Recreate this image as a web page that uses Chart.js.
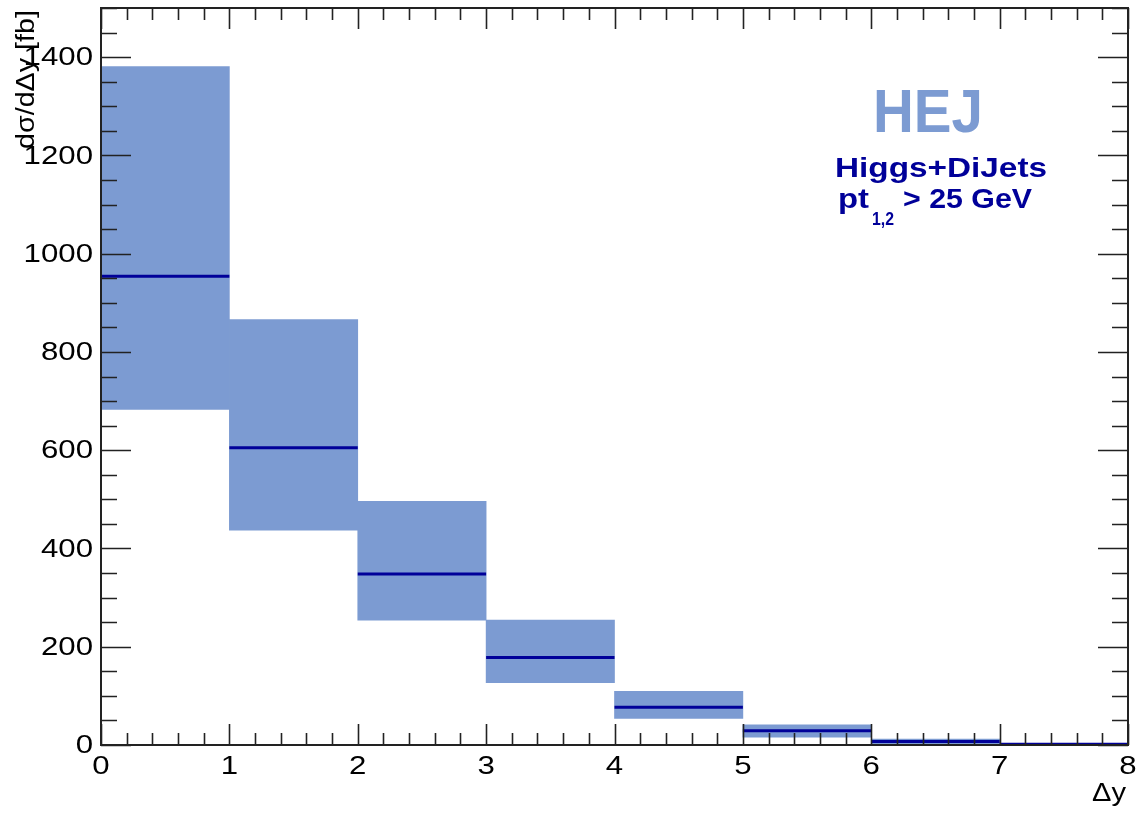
<!DOCTYPE html>
<html>
<head>
<meta charset="utf-8">
<title>HEJ Higgs+DiJets dsigma/dDeltay</title>
<script src="https://cdn.jsdelivr.net/npm/chart.js@4/dist/chart.umd.min.js"></script>
<style>
    body { margin: 0; background: #fff; }
    canvas { display: block; }
</style>
</head>
<body>
<canvas id="dyChart" width="1138" height="814"></canvas>
<script>
'use strict';

// bin edges and values
const binLow = [0, 1, 2, 3, 4, 5, 6, 7];
const binHigh = [1, 2, 3, 4, 5, 6, 7, 8];
const central = [954, 605, 348, 178, 77, 29, 7, 1.5];
const bandUp = [1381, 866, 496, 254, 109, 41, 12, 3];
const bandDown = [683, 437, 254, 127, 54, 16, 2, 0.5];

const xTicks = [0, 1, 2, 3, 4, 5, 6, 7, 8];
const yTicks = [0, 200, 400, 600, 800, 1000, 1200, 1400];

const BAND = '#7c9bd2';
const LINE = '#000099';
const FONT = "'Liberation Sans', Arial, Helvetica, sans-serif";
const STRETCH = 1.2; // the original plot is a bit wider than tall

// uncertainty band as floating bars centred in each bin
const bandData = binLow.map((lo, i) => ({
    x: (lo + binHigh[i]) / 2, y: [bandDown[i], bandUp[i]]
}));

// central value: one flat segment per bin, gaps in between
const centralData = [];
binLow.forEach((lo, i) => {
    centralData.push({x: lo, y: central[i]});
    centralData.push({x: binHigh[i], y: central[i]});
    centralData.push({x: binHigh[i], y: null});
});

// draw text left aligned, squeezed/stretched to a given width
function fitText(ctx, text, x, y, width) {
    const w = ctx.measureText(text).width;
    ctx.save();
    ctx.translate(x, y);
    ctx.scale(width / w, 1);
    ctx.textAlign = 'left';
    ctx.fillText(text, 0, 0);
    ctx.restore();
}

// text with a fixed horizontal stretch, aligned as asked
function wideText(ctx, text, x, y, align) {
    ctx.save();
    ctx.translate(x, y);
    ctx.scale(STRETCH, 1);
    ctx.textAlign = align;
    ctx.fillText(text, 0, 0);
    ctx.restore();
}

// ROOT style frame, inward ticks and labels
const rootFrame = {
    id: 'rootFrame',
    afterDraw(chart) {
        const ctx = chart.ctx;
        const a = chart.chartArea;
        const xs = chart.scales.x;
        const ys = chart.scales.y;
        ctx.save();
        ctx.strokeStyle = '#222';
        ctx.lineWidth = 1.6;

        // x ticks, bottom and top
        ctx.beginPath();
        for (let k = 0; k <= 40; k++) {
            const px = Math.round(xs.getPixelForValue(k * 0.2)) + 0.5;
            const len = k % 5 === 0 ? 21 : 12;
            ctx.moveTo(px, a.bottom);
            ctx.lineTo(px, a.bottom - len);
            ctx.moveTo(px, a.top);
            ctx.lineTo(px, a.top + len);
        }
        // y ticks, left and right
        for (let k = 0; k <= 30; k++) {
            const py = Math.round(ys.getPixelForValue(k * 50)) + 0.5;
            const len = k % 4 === 0 ? 30 : 16;
            ctx.moveTo(a.left, py);
            ctx.lineTo(a.left + len, py);
            ctx.moveTo(a.right, py);
            ctx.lineTo(a.right - len, py);
        }
        ctx.stroke();

        ctx.lineWidth = 2;
        ctx.strokeRect(a.left, a.top, a.right - a.left, a.bottom - a.top);

        // tick labels
        ctx.fillStyle = '#000';
        ctx.font = '26px ' + FONT;
        ctx.textBaseline = 'middle';
        yTicks.forEach(v => wideText(ctx, String(v), a.left - 8, ys.getPixelForValue(v) + 1, 'right'));
        ctx.textBaseline = 'alphabetic';
        xTicks.forEach(v => wideText(ctx, String(v), xs.getPixelForValue(v), 774, 'center'));

        // axis titles
        ctx.font = '25px ' + FONT;
        fitText(ctx, '\u0394y', 1092, 801, 34);

        ctx.save();
        ctx.translate(34, 149);
        ctx.rotate(-Math.PI / 2);
        fitText(ctx, 'd\u03c3/d\u0394y [fb]', 0, 0, 139);
        ctx.restore();

        // labels
        ctx.fillStyle = BAND;
        ctx.font = 'bold 62px ' + FONT;
        fitText(ctx, 'HEJ', 873, 132, 110);

        ctx.fillStyle = LINE;
        ctx.font = 'bold 27px ' + FONT;
        fitText(ctx, 'Higgs+DiJets', 835, 177, 212);
        fitText(ctx, 'pt', 838, 208, 31);
        fitText(ctx, '> 25 GeV', 903, 208, 129);
        ctx.font = 'bold 19px ' + FONT;
        fitText(ctx, '1,2', 872, 225, 22);
        ctx.restore();
    }
};

new Chart(document.getElementById('dyChart'), {
    type: 'bar',
    data: {
        datasets: [{
            type: 'line',
            data: centralData,
            borderColor: LINE,
            borderWidth: 3,
            pointRadius: 0,
            spanGaps: false,
            tension: 0,
            order: 0
        }, {
            type: 'bar',
            data: bandData,
            backgroundColor: BAND,
            borderWidth: 0,
            barPercentage: 1,
            categoryPercentage: 1,
            order: 1
        }]
    },
    options: {
        responsive: false,
        animation: false,
        devicePixelRatio: 1,
        layout: {padding: {left: 0, right: 10, top: 8, bottom: 0}},
        plugins: {legend: {display: false}, tooltip: {enabled: false}},
        scales: {
            x: {
                type: 'linear',
                min: 0, max: 8,
                offset: false,
                grid: {display: false, drawTicks: false, offset: false},
                border: {display: false},
                afterBuildTicks: s => { s.ticks = xTicks.map(v => ({value: v})); },
                ticks: {display: false},
                afterFit: s => {
                    s.height = 69;
                    s.paddingLeft = 0;
                    s.paddingRight = 0;
                }
            },
            y: {
                type: 'linear',
                min: 0, max: 1500,
                grid: {display: false, drawTicks: false},
                border: {display: false},
                afterBuildTicks: s => { s.ticks = yTicks.map(v => ({value: v})); },
                ticks: {display: false},
                afterFit: s => {
                    s.width = 101;
                    s.paddingTop = 0;
                    s.paddingBottom = 0;
                }
            }
        }
    },
    plugins: [rootFrame]
});
</script>
</body>
</html>
